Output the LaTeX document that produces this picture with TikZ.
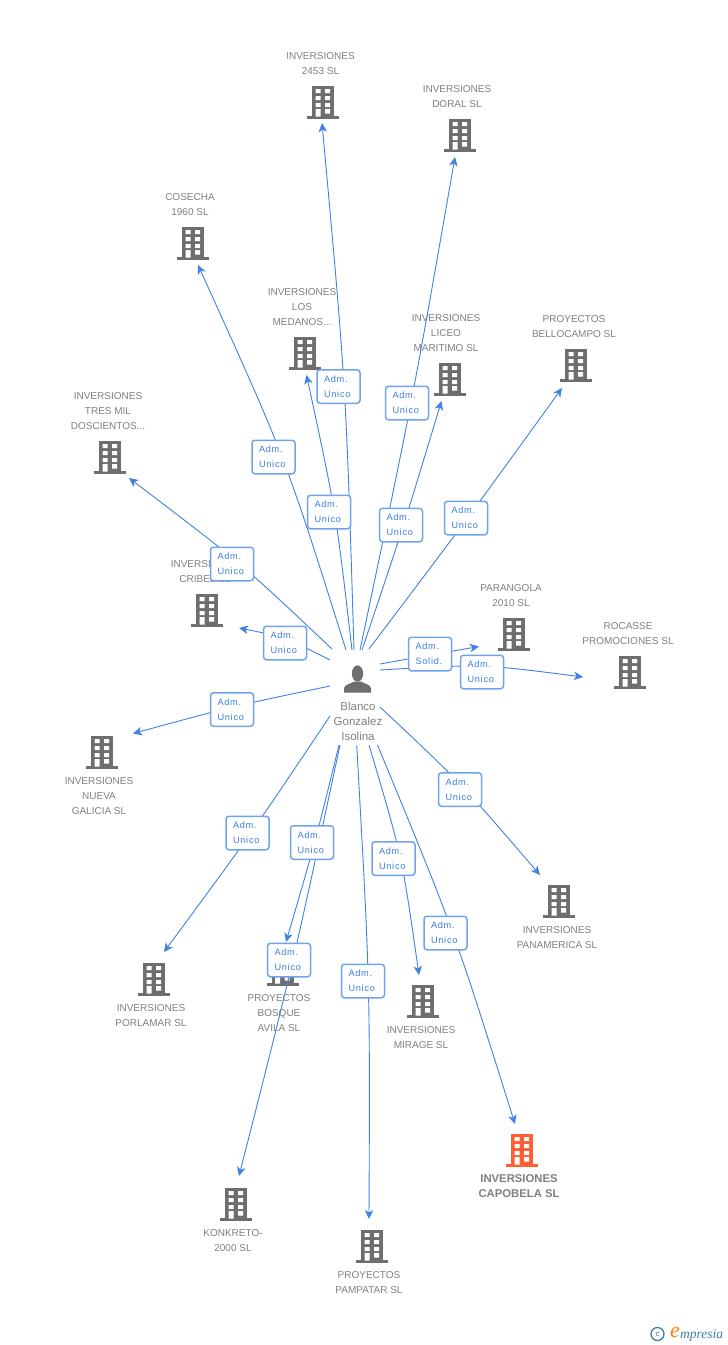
\documentclass[tikz,border=0pt]{standalone}
\usepackage{fontspec}
\setmainfont{Liberation Sans}
\newfontfamily\lblfont[LetterSpace=8]{Liberation Sans}
\newfontfamily\logofont{Liberation Serif}
\usetikzlibrary{arrows.meta}
\definecolor{linkblue}{HTML}{3F82E4}
\definecolor{boxblue}{HTML}{6FA3EC}
\definecolor{txtblue}{HTML}{3A7FE0}
\definecolor{txtgray}{HTML}{808080}
\definecolor{iconGray}{HTML}{6E6E6E}
\definecolor{iconOrange}{HTML}{FF5F33}
\definecolor{logoblue}{HTML}{3F7F9F}
\tikzset{
  bld/.style={minimum width=32pt,minimum height=33pt,inner sep=0pt},
  who/.style={minimum width=28pt,minimum height=28pt,inner sep=0pt},
  lbl/.style={align=center,text=txtgray,inner sep=0pt,font=\fontsize{10}{15}\selectfont},
  hubl/.style={align=center,text=txtgray,inner sep=0pt,font=\fontsize{11.5}{15}\selectfont},
  boldl/.style={align=center,text=txtgray,inner sep=0pt,font=\fontsize{11.3}{15}\selectfont\bfseries},
  link/.style={draw=linkblue,line width=0.9pt,-{Stealth[length=9pt,width=8.5pt,inset=2.5pt]}},
  role/.style={draw=boxblue,line width=1.5pt,fill=white,rounded corners=3pt,
    minimum width=43pt,minimum height=33.5pt,inner xsep=7pt,inner ysep=0pt,
    text width=29pt,align=left,text=txtblue,font=\lblfont\fontsize{9.2}{15}\selectfont}
}
\newcommand{\bldg}[3]{%
  \node[bld] (#1) at (#2) {};
  \begin{scope}[shift={(#2)},xshift=-16pt,yshift=16.5pt]
    \fill[#3] (5,0) rectangle (27,31);
    \fill[#3] (0,30.5) rectangle (32,33);
    \fill[white] (8.5,3.5) rectangle (13.5,7.5) (18,3.5) rectangle (23,7.5)
                 (8.5,10.5) rectangle (13.5,14.5) (18,10.5) rectangle (23,14.5)
                 (8.5,17.5) rectangle (13.5,21.5) (18,17.5) rectangle (23,21.5)
                 (8.5,23.5) rectangle (13.5,31) (18,23.5) rectangle (23,28);
  \end{scope}}
\newcommand{\lnk}[4]{%
  \coordinate (s#1) at (#2);
  \coordinate (e#1) at (#4);
  \draw[link] (s#1) .. controls (#3) .. (e#1);}
\begin{document}
\begin{tikzpicture}[x=1pt,y=-1pt]
\useasboundingbox[fill=white] (0,0) rectangle (728,1345);
% buildings
\bldg{b1}{323,102}{iconGray}
\bldg{b2}{460,135}{iconGray}
\bldg{b3}{193,243}{iconGray}
\bldg{b4}{305,353}{iconGray}
\bldg{b5}{450,379}{iconGray}
\bldg{b6}{576,365}{iconGray}
\bldg{b7}{110,457}{iconGray}
\bldg{b8}{207,610}{iconGray}
\bldg{b9}{514,634}{iconGray}
\bldg{b10}{630,672}{iconGray}
\bldg{b11}{102,752}{iconGray}
\bldg{b12}{154,979}{iconGray}
\bldg{b13}{282.5,969}{iconGray}
\bldg{b14}{236,1204}{iconGray}
\bldg{b15}{372,1246}{iconGray}
\bldg{b16}{423,1001}{iconGray}
\bldg{b17}{559,901}{iconGray}
\bldg{b18}{522,1150}{iconOrange}
% names
\node[lbl] (t1) at (320.5,64) {INVERSIONES\\2453 SL};
\node[lbl] (t2) at (457,96.5) {INVERSIONES\\DORAL SL};
\node[lbl] (t3) at (190,205) {COSECHA\\1960 SL};
\node[lbl] (t4) at (302,307) {INVERSIONES\\LOS\\MEDANOS...};
\node[lbl] (t5) at (446,333) {INVERSIONES\\LICEO\\MARITIMO SL};
\node[lbl] (t6) at (574,326.5) {PROYECTOS\\BELLOCAMPO SL};
\node[lbl] (t7) at (108,411) {INVERSIONES\\TRES MIL\\DOSCIENTOS...};
\node[lbl] (t8) at (205,571.5) {INVERSIONES\\CRIBEL SL};
\node[lbl] (t9) at (511,595.5) {PARANGOLA\\2010 SL};
\node[lbl] (t10) at (628,633.5) {ROCASSE\\PROMOCIONES SL};
\node[lbl] (t11) at (99,796) {INVERSIONES\\NUEVA\\GALICIA SL};
\node[lbl] (t12) at (151,1015.5) {INVERSIONES\\PORLAMAR SL};
\node[lbl] (t13) at (279,1013) {PROYECTOS\\BOSQUE\\AVILA SL};
\node[lbl] (t14) at (233,1240.5) {KONKRETO-\\2000 SL};
\node[lbl] (t15) at (369,1282.5) {PROYECTOS\\PAMPATAR SL};
\node[lbl] (t16) at (421,1037.5) {INVERSIONES\\MIRAGE SL};
\node[lbl] (t17) at (557,937.5) {INVERSIONES\\PANAMERICA SL};
\node[boldl] (t18) at (519,1186) {INVERSIONES\\CAPOBELA SL};
% person
\node[who] (hub) at (357.5,678.5) {};
\begin{scope}[shift={(357.5,678.5)},xshift=-14pt,yshift=14pt]
  \fill[iconGray] (14,9) ellipse [x radius=5.6,y radius=8.2];
  \fill[iconGray] (0.5,28) -- (0.5,24) .. controls (0.5,20) and (7,19.5) .. (10.5,17)
      -- (17.5,17) .. controls (21,19.5) and (27.5,20) .. (27.5,24) -- (27.5,28) -- cycle;
\end{scope}
\node[hubl] (hubname) at (358,721) {Blanco\\Gonzalez\\Isolina};
% connectors
\lnk{1}{354,650}{346,386}{322,123}
\lnk{2}{360,650}{412,403}{455,157}
\lnk{3}{346,650}{285.5,457.5}{198,265}
\lnk{4}{352,650}{336,512}{306.5,375}
\lnk{5}{362,650}{404,525}{441.5,401}
\lnk{6}{369,649}{468,518}{562,388}
\lnk{7}{332,649}{241,563}{129,478}
\lnk{8}{330,660}{284.5,637}{239,628}
\lnk{9}{380,664}{430,655}{479,646.5}
\lnk{10}{380,670}{482,664}{583,677}
\lnk{11}{330,686}{232,706.5}{133,733.5}
\lnk{12}{330,716}{251,834}{164,952}
\lnk{13}{339,745}{315,843}{286,942}
\lnk{14}{340,745}{294,960}{239,1176}
\lnk{15}{356.7,745}{370,981}{369,1219}
\lnk{16}{369,745}{402,856}{419,975}
\lnk{17}{380,707}{460,782}{540,875}
\lnk{18}{377.5,745}{454,930}{515,1124}
% role boxes
\node[role] (r1) at (338.5,386.5) {Adm.\\Unico};
\node[role] (r2) at (407,403) {Adm.\\Unico};
\node[role] (r3) at (273.5,457) {Adm.\\Unico};
\node[role] (r4) at (329,512) {Adm.\\Unico};
\node[role] (r5) at (401,525) {Adm.\\Unico};
\node[role] (r6) at (466,518) {Adm.\\Unico};
\node[role] (r7) at (232,564) {Adm.\\Unico};
\node[role] (r8) at (285,643) {Adm.\\Unico};
\node[role] (r9) at (430,654) {Adm.\\Solid.};
\node[role] (r10) at (482,672) {Adm.\\Unico};
\node[role] (r11) at (232,709.5) {Adm.\\Unico};
\node[role] (r12) at (247.5,833) {Adm.\\Unico};
\node[role] (r13) at (312,842.5) {Adm.\\Unico};
\node[role] (r14) at (289,960) {Adm.\\Unico};
\node[role] (r15) at (363,981) {Adm.\\Unico};
\node[role] (r16) at (393.5,858.5) {Adm.\\Unico};
\node[role] (r17) at (460,789.5) {Adm.\\Unico};
\node[role] (r18) at (445.5,933) {Adm.\\Unico};
% logo
\node[circle,draw=logoblue,line width=1.3pt,minimum size=13pt,inner sep=0pt,
      text=logoblue,font=\fontsize{8}{8}\selectfont] (logoc) at (657.5,1334) {c};
\node[inner sep=0pt,text=orange,font=\logofont\itshape\fontsize{22}{22}\selectfont] (logoe) at (675,1332) {e};
\node[inner sep=0pt,text=logoblue,font=\logofont\itshape\fontsize{13.5}{13.5}\selectfont,anchor=west] (logom) at (680,1335) {mpresia};
\end{tikzpicture}
\end{document}
